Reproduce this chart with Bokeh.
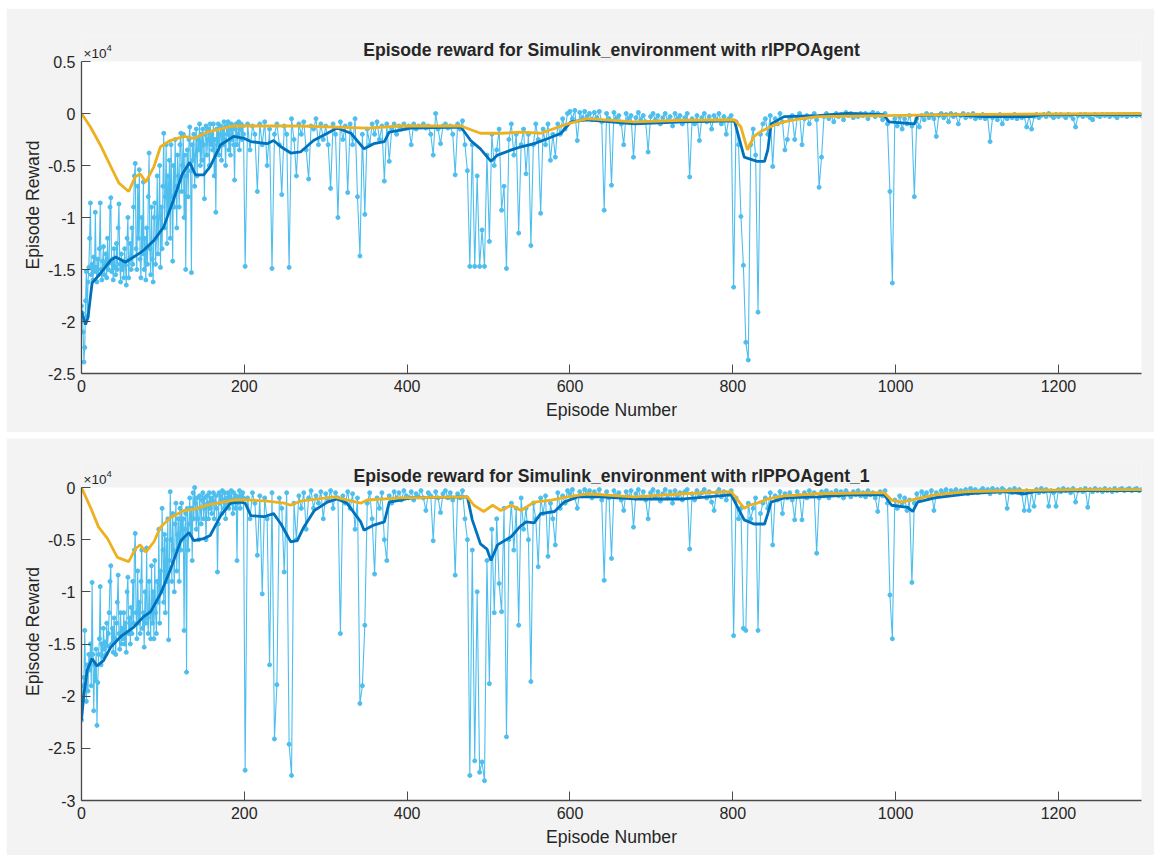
from bokeh.plotting import figure
from bokeh.layouts import column
from bokeh.models import (Range1d, FixedTicker, CustomJSTickFormatter, Label, Title,
                          BoxAnnotation)
from bokeh.embed import file_html
from bokeh.resources import INLINE

# ---------------- data (reward values shown in units of x10^4) ----------------
TITLE_TOP = "Episode reward for Simulink_environment with rlPPOAgent"
TITLE_BOT = "Episode reward for Simulink_environment with rlPPOAgent_1"
X_TICKS = [0, 200, 400, 600, 800, 1000, 1200]
Y_TICKS_TOP = [0.5, 0, -0.5, -1, -1.5, -2, -2.5]
Y_TICKS_BOT = [0, -0.5, -1, -1.5, -2, -2.5, -3]

# episodes at which the episode reward is read: every episode up to 199, then every 3rd
reward_episodes = list(range(0, 200)) + list(range(201, 1303, 3))

episode_reward_top = [
    # episodes 0-199
    -1.85, -1.92, -2.1, -2.39, -2.25, -1.8, -1.52, -1.95, -1.62, -1.48,
    -1.2, -0.86, -1.55, -1.45, -1.6, -1.38, -1.52, -0.95, -1.48, -1.62,
    -1.4, -1.55, -1.3, -0.86, -1.5, -1.6, -1.42, -1.28, -1.55, -1.46,
    -1.35, -1.58, -1.2, -1.5, -1.44, -0.9, -0.81, -1.52, -1.4, -1.6,
    -1.3, -1.48, -1.55, -1.25, -1.5, -1.1, -0.87, -1.45, -1.62, -1.35,
    -1.5, -1.42, -1.58, -1.3, -1.46, -1.65, -1.2, -1.0, -1.58, -1.4,
    -1.25, -1.5, -1.1, -1.45, -0.9, -0.6, -0.48, -1.3, -1.5, -0.7,
    -1.2, -0.54, -1.4, -1.58, -1.0, -1.35, -0.66, -1.5, -1.2, -1.6,
    -1.1, -1.45, -0.8, -0.38, -1.3, -1.55, -0.9, -1.4, -1.62, -1.0,
    -0.86, -1.45, -1.2, -0.6, -1.35, -1.0, -0.5, -1.48, -0.9, -1.3,
    -0.7, -0.19, -1.1, -0.8, -0.3, -1.25, -0.6, -0.95, -0.45, -1.2,
    -0.3, -0.8, -1.42, -0.5, -0.9, -0.25, -0.7, -1.1, -0.4, -0.6,
    -0.9, -0.3, -0.19, -0.75, -0.5, -0.2, -1.0, -0.4, -1.5, -0.6,
    -0.35, -0.8, -0.25, -0.13, -0.55, -1.53, -0.3, -0.45, -0.2, -0.7,
    -0.4, -0.15, -0.6, -0.25, -0.35, -0.1, -0.5, -0.2, -0.45, -0.15,
    -0.3, -0.82, -0.2, -0.12, -0.4, -0.25, -0.15, -0.5, -0.1, -0.3,
    -0.2, -0.35, -0.1, -0.6, -0.25, -0.95, -0.15, -0.3, -0.1, -0.4,
    -0.2, -0.12, -0.45, -0.15, -0.3, -0.08, -0.25, -0.5, -0.12, -0.2,
    -0.08, -0.35, -0.15, -0.4, -0.1, -0.25, -0.12, -0.3, -0.64, -0.15,
    -0.1, -0.3, -0.2, -0.08, -0.35, -0.15, -0.1, -0.25, -0.12, -0.2,
    # episodes 201, 204, ... 1302
    -1.47, -0.1, -0.35,
    -0.12, -0.2, -0.75, -0.1, -0.3, -0.08, -0.5, -0.15, -1.49, -0.2,
    -0.1, -0.3, -0.78, -0.12, -0.2, -1.48, -0.05, -0.25, -0.6, -0.1,
    -0.2, -0.08, -0.35, -0.63, -0.12, -0.15, -0.05, -0.3, -0.1, -0.25,
    -0.12, -0.3, -0.72, -0.1, -0.2, -1.0, -0.08, -0.25, -0.12, -0.76,
    -0.1, -0.3, -0.05, -0.8, -1.37, -0.2, -0.97, -0.15, -0.3, -0.1,
    -0.2, -0.08, -0.25, -0.12, -0.65, -0.1, -0.46, -0.15, -0.1, -0.2,
    -0.12, -0.15, -0.1, -0.14, -0.12, -0.3, -0.1, -0.15, -0.12, -0.13,
    -0.1, -0.14, -0.12, -0.2, -0.4, 0.0, -0.15, -0.29, -0.12, -0.1,
    -0.14, -0.12, -0.2, -0.59, -0.1, -0.15, -0.07, -0.3, -0.55, -1.47,
    -0.3, -1.47, -0.6, -1.47, -1.12, -1.47, -0.4, -1.23, -0.2, -0.5,
    -0.35, -0.15, -0.93, -0.7, -1.49, -0.25, -0.1, -0.4, -0.2, -1.15,
    -0.3, -0.15, -0.58, -0.2, -1.27, -0.3, -0.1, -0.25, -0.96, -0.15,
    -0.3, -0.1, -0.45, -0.2, -0.42, -0.1, -0.2, -0.05, -0.15, 0.0,
    0.02, -0.05, 0.03, -0.26, 0.01, -0.04, 0.02, -0.03, 0.0, -0.06,
    0.01, -0.04, 0.02, -0.08, -0.93, 0.0, -0.05, -0.69, 0.01, -0.05,
    -0.02, -0.1, -0.3, 0.0, -0.05, -0.02, -0.42, -0.04, 0.01, -0.06,
    -0.02, -0.08, -0.37, -0.03, 0.0, -0.06, -0.02, -0.1, -0.04, 0.0,
    -0.07, -0.03, -0.12, 0.0, -0.05, -0.02, -0.1, -0.04, 0.0, -0.61,
    -0.05, -0.1, -0.02, -0.26, -0.04, 0.0, -0.08, -0.03, -0.15, -0.02,
    -0.06, 0.0, -0.1, -0.03, -0.2, -0.05, -0.02, -1.67, -0.08, -0.3,
    -0.99, -1.46, -2.2, -2.37, -0.3, -0.15, -0.4, -1.91, -0.2, -0.1,
    -0.05, -0.2, -0.02, -0.51, -0.05, -0.1, 0.0, -0.08, -0.35, -0.25,
    -0.05, -0.02, -0.25, -0.04, 0.0, -0.3, -0.05, -0.02, -0.1, -0.03,
    0.0, -0.06, -0.71, -0.42, -0.03, 0.0, -0.05, -0.02, -0.08, 0.0,
    -0.03, -0.01, -0.06, 0.01, -0.02, 0.0, -0.04, -0.01, -0.03, 0.0,
    -0.02, 0.0, -0.05, -0.01, 0.01, -0.03, 0.0, -0.02, -0.06, 0.0,
    -0.1, -0.75, -1.63, -0.05, -0.12, -0.03, -0.15, -0.05, -0.1, -0.02,
    -0.12, -0.8, -0.05, -0.13, -0.02, -0.06, 0.0, -0.04, -0.01, -0.05,
    -0.22, -0.02, 0.0, -0.04, -0.01, -0.08, 0.0, -0.03, -0.01, -0.1,
    -0.02, 0.0, -0.04, -0.01, -0.03, 0.0, -0.05, -0.02, -0.04, -0.01,
    -0.05, -0.03, -0.27, -0.04, -0.02, -0.06, -0.01, -0.1, -0.03, -0.05,
    -0.02, -0.04, -0.01, -0.05, -0.02, -0.04, -0.03, -0.13, -0.02, -0.15,
    -0.03, -0.01, -0.04, -0.02, -0.01, -0.03, 0.0, -0.02, -0.04, -0.01,
    -0.03, -0.01, -0.02, -0.04, -0.01, -0.02, -0.05, -0.13, -0.02, -0.01,
    -0.03, -0.01, -0.02, -0.04, -0.06, -0.01, -0.02, -0.03, -0.01, -0.02,
    -0.01, -0.03, -0.01, -0.02, -0.04, -0.01, -0.02, -0.01, -0.03, -0.01,
    -0.02, -0.01, -0.02, -0.01, -0.02,
]

episode_reward_bot = [
    # episodes 0-199
    -2.23, -2.0, -1.9, -1.82, -1.37, -1.82, -2.05, -1.7, -1.95, -1.6,
    -1.75, -1.5, -1.9, -0.91, -1.6, -2.14, -1.7, -1.85, -1.55, -2.28,
    -1.87, -1.6, -1.45, -0.95, -1.7, -1.5, -1.62, -1.35, -1.55, -1.48,
    -1.6, -1.3, -1.52, -1.4, -1.2, -0.9, -0.75, -1.5, -1.35, -1.58,
    -1.25, -1.45, -1.6, -1.3, -1.1, -0.84, -1.4, -1.55, -1.2, -1.5,
    -1.35, -1.45, -1.2, -1.5, -1.3, -1.58, -1.0, -0.86, -1.4, -1.25,
    -1.5, -1.15, -1.4, -0.9, -1.3, -0.6, -0.44, -1.2, -1.45, -0.8,
    -1.3, -1.1, -1.4, -0.9, -0.6, -1.35, -1.2, -1.53, -1.0, -1.3,
    -0.58, -1.25, -1.4, -0.9, -1.2, -1.45, -0.75, -1.3, -1.0, -1.45,
    -0.7, -1.2, -1.4, -0.9, -1.1, -0.4, -1.3, -0.8, -1.0, -0.2,
    -0.6, -1.1, -0.45, -1.2, -0.5, -0.9, -0.3, -1.46, -0.7, -0.04,
    -0.5, -0.9, -0.25, -0.6, -1.0, -0.35, -0.15, -0.8, -0.45, -0.3,
    -0.9, -0.2, -0.6, -0.15, -0.5, -0.3, -1.37, -0.4, -0.25, -1.77,
    -0.2, -0.6, -0.35, -0.1, -0.45, -0.2, -0.7, -0.05, -0.3, 0.0,
    -0.15, -0.4, -0.1, -0.3, -0.5, -0.08, -0.2, -0.35, -0.12, -0.05,
    -0.3, -0.1, -0.2, -0.5, -0.08, -0.15, -0.3, -0.05, -0.2, -0.1,
    -0.25, -0.12, -0.05, -0.3, -0.15, -0.08, -0.2, -0.81, -0.35, -0.05,
    -0.15, -0.08, -0.25, -0.03, -0.12, -0.2, -0.05, -0.3, -0.1, -0.15,
    -0.05, -0.2, -0.08, -0.12, -0.03, -0.15, -0.25, -0.05, -0.1, -0.2,
    -0.08, -0.7, -0.15, -0.1, -0.03, -0.2, -0.08, -0.12, -0.05, -0.1,
    # episodes 201, 204, ... 1302
    -2.71, -0.1, -0.3,
    -0.05, -0.15, -0.65, -0.08, -1.02, -0.1, -0.3, -1.7, -0.05, -2.41,
    -1.89, -0.1, -0.2, -0.81, -0.05, -2.46, -2.76, -0.15, -0.5, -0.08,
    -0.2, -0.05, -0.4, -0.1, -0.03, -0.2, -0.08, -0.15, -0.04, -0.3,
    -0.06, -0.12, -0.03, -0.2, -0.05, -0.1, -1.4, -0.08, -0.15, -0.04,
    -0.2, -0.06, -0.4, -0.1, -2.07, -1.9, -1.32, -0.15, -0.05, -0.3,
    -0.83, -0.1, -0.2, -0.05, -0.5, -0.7, -0.08, -0.15, -0.04, -0.1,
    -0.05, -0.12, -0.03, -0.08, -0.1, -0.04, -0.12, -0.06, -0.09, -0.03,
    -0.1, -0.22, -0.05, -0.08, -0.51, -0.04, -0.1, -0.24, -0.06, -0.03,
    -0.1, -0.05, -0.12, -0.84, -0.06, -0.1, -0.03, -0.3, -0.5, -2.76,
    -0.6, -2.62, -1.0, -2.73, -2.63, -2.81, -0.7, -1.88, -0.4, -1.2,
    -0.3, -0.92, -1.19, -0.2, -2.39, -0.5, -0.15, -0.6, -0.2, -1.32,
    -0.1, -0.4, -0.2, -0.5, -1.86, -0.15, -0.3, -0.76, -0.1, -0.25,
    -0.08, -0.66, -0.15, -0.3, -0.55, -0.05, -0.2, -0.08, -0.15, -0.03,
    -0.06, -0.02, -0.1, -0.2, -0.04, -0.08, -0.02, -0.06, -0.03, -0.1,
    -0.04, -0.08, -0.02, -0.12, -0.89, -0.04, -0.1, -0.68, -0.03, -0.08,
    -0.05, -0.12, -0.22, -0.04, -0.09, -0.03, -0.38, -0.06, -0.02, -0.1,
    -0.04, -0.12, -0.3, -0.05, -0.02, -0.09, -0.04, -0.13, -0.06, -0.02,
    -0.1, -0.04, -0.15, -0.03, -0.08, -0.05, -0.12, -0.04, -0.02, -0.59,
    -0.06, -0.12, -0.03, -0.08, -0.05, -0.02, -0.1, -0.04, -0.14, -0.22,
    -0.05, -0.02, -0.09, -0.04, -0.12, -0.06, -0.03, -1.42, -0.1, -0.3,
    -0.2, -1.35, -1.37, -0.15, -0.3, -0.2, -0.1, -1.37, -0.25, -0.15,
    -0.1, -0.2, -0.05, -0.55, -0.08, -0.12, -0.04, -0.25, -0.06, -0.1,
    -0.05, -0.12, -0.31, -0.04, -0.08, -0.31, -0.05, -0.1, -0.03, -0.08,
    -0.05, -0.63, -0.1, -0.04, -0.08, -0.03, -0.1, -0.05, -0.07, -0.03,
    -0.08, -0.04, -0.1, -0.03, -0.06, -0.09, -0.04, -0.07, -0.03, -0.08,
    -0.05, -0.09, -0.03, -0.07, -0.05, -0.1, -0.23, -0.04, -0.08, -0.03,
    -0.15, -1.03, -1.45, -0.12, -0.2, -0.08, -0.15, -0.1, -0.22, -0.12,
    -0.91, -0.15, -0.06, -0.12, -0.04, -0.08, -0.05, -0.1, -0.03, -0.22,
    -0.05, -0.08, -0.03, -0.06, -0.02, -0.07, -0.03, -0.05, -0.02, -0.06,
    -0.03, -0.05, -0.02, -0.06, -0.01, -0.04, -0.02, -0.05, -0.03, -0.01,
    -0.04, -0.02, -0.06, -0.01, -0.04, -0.02, -0.05, -0.01, -0.03, -0.2,
    -0.02, -0.05, -0.01, -0.04, -0.02, -0.06, -0.22, -0.03, -0.22, -0.04,
    -0.18, -0.02, -0.05, -0.01, -0.04, -0.02, -0.18, -0.03, -0.05, -0.18,
    -0.02, -0.04, -0.01, -0.03, -0.02, -0.05, -0.01, -0.14, -0.03, -0.02,
    -0.04, -0.01, -0.19, -0.02, -0.04, -0.01, -0.03, -0.02, -0.04, -0.01,
    -0.03, -0.02, -0.04, -0.01, -0.03, -0.02, -0.01, -0.03, -0.02, -0.01,
    -0.03, -0.02, -0.01, -0.03, -0.02,
]

avg_ep_top = [0, 5, 8, 13, 23, 36, 42, 54, 64, 72, 77, 89, 101, 113, 124, 133, 140, 150,
              158, 171, 187, 200, 208, 228, 236, 245, 257, 269, 285, 302, 314, 331, 347,
              359, 372, 378, 392, 404, 466, 478, 490, 503, 511, 528, 540, 556, 573, 589,
              601, 621, 679, 740, 802, 814, 830, 839, 843, 847, 863, 904, 941, 985, 992,
              1023, 1027, 1068, 1109, 1166, 1179, 1302]
avg_top = [-1.90, -2.03, -1.96, -1.63, -1.54, -1.41, -1.38, -1.43, -1.38, -1.34, -1.31,
           -1.22, -1.09, -0.83, -0.58, -0.47, -0.59, -0.59, -0.51, -0.30, -0.22, -0.24,
           -0.27, -0.29, -0.26, -0.32, -0.38, -0.37, -0.26, -0.19, -0.14, -0.19, -0.34,
           -0.29, -0.27, -0.18, -0.16, -0.14, -0.13, -0.26, -0.34, -0.46, -0.40, -0.35,
           -0.32, -0.29, -0.24, -0.19, -0.08, -0.06, -0.10, -0.08, -0.07, -0.42, -0.46,
           -0.46, -0.35, -0.10, -0.03, -0.02, 0.00, -0.01, -0.08, -0.10, -0.02, -0.01,
           -0.03, -0.03, -0.01, -0.01]

avg_ep_bot = [0, 3, 7, 13, 19, 27, 36, 48, 64, 76, 85, 97, 109, 122, 132, 138, 150, 158,
              171, 183, 195, 201, 208, 224, 236, 245, 257, 265, 273, 286, 302, 314, 326,
              343, 347, 359, 372, 378, 392, 404, 474, 480, 490, 498, 503, 511, 528, 538,
              546, 556, 564, 581, 593, 609, 637, 679, 740, 798, 814, 826, 839, 843, 847,
              863, 904, 945, 986, 995, 1015, 1021, 1027, 1048, 1088, 1130, 1158, 1171,
              1232, 1302]
avg_bot = [-2.23, -1.98, -1.75, -1.64, -1.71, -1.66, -1.53, -1.43, -1.34, -1.24, -1.19,
           -1.02, -0.79, -0.51, -0.43, -0.51, -0.49, -0.46, -0.27, -0.15, -0.14, -0.15,
           -0.27, -0.28, -0.25, -0.35, -0.52, -0.51, -0.38, -0.22, -0.14, -0.11, -0.15,
           -0.33, -0.41, -0.36, -0.33, -0.14, -0.12, -0.10, -0.09, -0.31, -0.54, -0.59,
           -0.70, -0.55, -0.47, -0.38, -0.33, -0.34, -0.25, -0.23, -0.14, -0.09, -0.09,
           -0.11, -0.11, -0.07, -0.31, -0.35, -0.35, -0.25, -0.14, -0.10, -0.09, -0.07,
           -0.07, -0.17, -0.19, -0.23, -0.14, -0.10, -0.06, -0.04, -0.06, -0.04, -0.03,
           -0.03]

q0_ep_top = [0, 11, 23, 36, 46, 58, 66, 72, 79, 89, 97, 109, 126, 138, 154, 187, 269, 351,
             392, 466, 490, 515, 540, 564, 597, 621, 679, 740, 802, 810, 818, 826, 835,
             851, 863, 884, 904, 986, 1068, 1302]
q0_top = [0.00, -0.13, -0.30, -0.51, -0.67, -0.75, -0.61, -0.58, -0.66, -0.51, -0.32,
          -0.26, -0.22, -0.24, -0.18, -0.12, -0.12, -0.14, -0.12, -0.12, -0.19, -0.19,
          -0.18, -0.19, -0.10, -0.05, -0.08, -0.065, -0.06, -0.13, -0.35, -0.22, -0.17,
          -0.11, -0.08, -0.05, -0.03, -0.02, -0.01, 0.00]

q0_ep_bot = [0, 11, 21, 32, 44, 58, 66, 72, 79, 89, 97, 109, 126, 138, 154, 187, 205, 228,
             249, 257, 269, 310, 343, 351, 392, 474, 482, 494, 505, 515, 528, 540, 556,
             577, 597, 621, 679, 740, 798, 814, 820, 830, 843, 863, 904, 986, 995, 1007,
             1019, 1048, 1088, 1150, 1232, 1302]
q0_bot = [0.00, -0.19, -0.38, -0.49, -0.67, -0.71, -0.59, -0.55, -0.62, -0.52, -0.38,
          -0.29, -0.22, -0.21, -0.17, -0.12, -0.12, -0.13, -0.15, -0.17, -0.13, -0.09,
          -0.15, -0.12, -0.10, -0.09, -0.17, -0.23, -0.17, -0.22, -0.17, -0.22, -0.14,
          -0.12, -0.09, -0.06, -0.09, -0.06, -0.04, -0.20, -0.17, -0.15, -0.11, -0.08,
          -0.06, -0.05, -0.12, -0.14, -0.12, -0.07, -0.04, -0.03, -0.02, -0.02]

assert len(episode_reward_top) == len(reward_episodes), len(episode_reward_top)
assert len(episode_reward_bot) == len(reward_episodes), len(episode_reward_bot)

# ---------------- styling ----------------
FONT = "Liberation Sans"
TXT = "#262626"
AXC = "#4a4a4a"
BG = "#f3f3f3"
LIGHT = "#4DBEEE"
DARK = "#0072BD"
ORANGE = "#EDB120"
X_MAX = 1302
HEAD_PX = 25  # gray strip inside the frame, above the axes box, holding title and exponent


def panel(title, y0, y1, yticks, rew, a_ep, a, q_ep, q, h, top, bottom, margin, ylab_shift):
    frame_h = h - top - bottom
    ext = (y1 - y0) * HEAD_PX / (frame_h - HEAD_PX)
    p = figure(width=1148, height=h, x_range=Range1d(0, X_MAX),
               y_range=Range1d(y0, y1 + ext),
               output_backend="svg", toolbar_location=None, margin=margin,
               min_border_left=75, min_border_right=13, min_border_top=top,
               min_border_bottom=bottom, background_fill_color=BG,
               border_fill_color=BG, outline_line_color=None)
    p.grid.visible = False
    # white axes box
    p.add_layout(BoxAnnotation(bottom=y0, top=y1, fill_color="white", fill_alpha=1.0,
                               line_color=None, level="underlay"))

    p.line(reward_episodes, rew, color=LIGHT, line_width=1.1)
    p.scatter(reward_episodes, rew, size=4, color=LIGHT)
    p.line(a_ep, a, color=DARK, line_width=2.8)
    p.line(q_ep, q, color=ORANGE, line_width=2.8)

    p.xaxis.ticker = FixedTicker(ticks=X_TICKS)
    p.yaxis.ticker = FixedTicker(ticks=yticks)
    p.yaxis.formatter = CustomJSTickFormatter(code="return tick.toString();")
    p.yaxis.bounds = (y0, y1)
    p.xaxis.axis_label = "Episode Number"
    for ax in (p.xaxis[0], p.yaxis[0]):
        ax.major_tick_in = 9
        ax.major_tick_out = 0
        ax.minor_tick_line_color = None
        ax.axis_line_color = AXC
        ax.axis_line_width = 1.3
        ax.major_tick_line_color = AXC
        ax.major_label_text_font = FONT
        ax.major_label_text_font_size = "16px"
        ax.major_label_text_color = TXT
        ax.major_label_standoff = 6
        ax.axis_label_text_font = FONT
        ax.axis_label_text_font_size = "17.6px"
        ax.axis_label_text_font_style = "normal"
        ax.axis_label_text_color = TXT
    p.xaxis.axis_label_standoff = 5

    # y axis title, centred on the axes box (not on the taller frame)
    p.add_layout(Title(text="Episode Reward", align="center", offset=-ylab_shift,
                       standoff=3, text_font=FONT, text_font_size="17.6px",
                       text_font_style="normal", text_color=TXT), "left")

    # plot title and exponent, inside the gray head strip
    p.add_layout(Label(x=X_MAX / 2, y=y1, text=title, text_align="center",
                       text_baseline="alphabetic", y_offset=12, text_font=FONT,
                       text_font_size="17.6px", text_font_style="bold", text_color=TXT))
    p.add_layout(Label(x=0, y=y1, text="×10", x_offset=2, y_offset=8,
                       text_baseline="alphabetic", text_font=FONT, text_font_size="13.5px",
                       text_color=TXT))
    p.add_layout(Label(x=0, y=y1, text="4", x_offset=25, y_offset=14,
                       text_baseline="alphabetic", text_font=FONT, text_font_size="9.5px",
                       text_color=TXT))
    return p


p1 = panel(TITLE_TOP, -2.5, 0.5, Y_TICKS_TOP, episode_reward_top, avg_ep_top, avg_top,
           q0_ep_top, q0_top, 424, 28, 59, (8, 0, 0, 6), HEAD_PX / 2)
p2 = panel(TITLE_BOT, -3, 0, Y_TICKS_BOT, episode_reward_bot, avg_ep_bot, avg_bot,
           q0_ep_bot, q0_bot, 417, 24, 55, (6, 0, 0, 6), HEAD_PX / 2)

layout = column(p1, p2, spacing=0)
open("out.html", "w").write(file_html(layout, INLINE))
